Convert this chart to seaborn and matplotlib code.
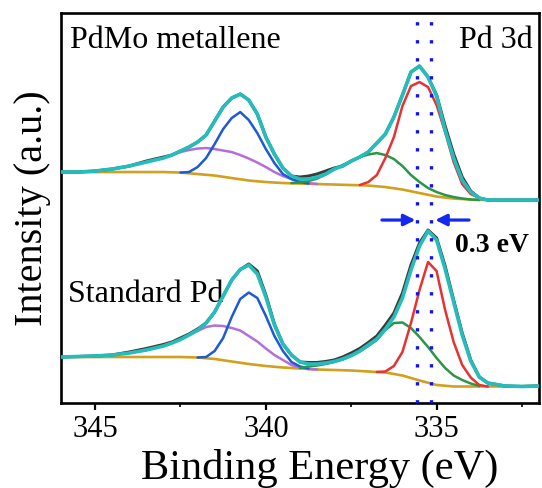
import matplotlib
matplotlib.use("Agg")
import matplotlib.pyplot as plt
import seaborn as sns

# ---------------- data (binding energy in eV, intensity in a.u.) ----------------
E_grid = [346.0, 345.5, 345.0, 344.5, 344.0, 343.5, 343.0, 342.75, 342.5, 342.25,
          342.0, 341.75, 341.5, 341.25, 341.0, 340.75, 340.5, 340.25, 340.0, 339.75,
          339.5, 339.25, 339.0, 338.75, 338.5, 338.25, 338.0, 337.75, 337.5, 337.25,
          337.0, 336.75, 336.5, 336.25, 336.0, 335.75, 335.5, 335.25, 335.0, 334.75,
          334.5, 334.25, 334.0, 333.75, 333.5, 333.0, 332.5, 332.0]

# PdMo metallene (upper spectrum)
top_raw = [231, 231, 232, 234, 237, 242, 246, 248, 252, 256,
           261, 268, 282, 296, 305, 309, 303, 289, 266, 249,
           235, 227, 226, 227, 229, 232, 235, 237, 242, 246,
           251, 260, 269, 286, 308, 331, 337, 326, 308, 277,
           249, 226, 212, 205, 203, 203, 203, 203]
top_fit = [231, 231, 232, 234, 237, 241, 245, 248, 252, 256,
           261, 268, 282, 296, 305, 309, 303, 289, 266, 249,
           235, 227, 224, 224, 226, 229, 234, 237, 242, 246,
           251, 260, 269, 286, 308, 331, 337, 326, 307, 273,
           245, 223, 211, 205, 203, 203, 203, 203]
E_base = [346.0, 345.0, 344.0, 343.0, 342.5, 342.0, 341.5, 341.0, 340.5, 340.0,
          339.5, 339.0, 338.5, 338.0, 337.5, 337.0, 336.5, 336.0, 335.5, 335.0,
          334.5, 334.0, 333.5, 333.0, 332.0]
top_base = [231, 231, 231, 231, 230.5, 229, 227.5, 225, 222.5, 221,
            220, 219.5, 219, 218.5, 218, 217.5, 216, 213.5, 210, 206.5,
            204.5, 203.5, 203, 203, 203]
E_top_blue = [342.5, 342.25, 342.0, 341.75, 341.5, 341.25, 341.0, 340.75, 340.5,
              340.25, 340.0, 339.75, 339.5, 339.25, 339.0, 338.75]
top_blue = [230.5, 231, 236, 245, 259, 274, 285, 291, 283, 270, 254, 240, 229, 224, 221, 219.5]
E_top_purple = [346.0, 345.5, 345.0, 344.5, 344.0, 343.5, 343.0, 342.5, 342.25, 342.0,
                341.75, 341.5, 341.25, 341.0, 340.75, 340.5, 340.25, 340.0, 339.75,
                339.5, 339.25, 339.0, 338.75, 338.5]
top_purple = [231, 231, 232, 234, 237, 241, 245, 251, 253, 254.5,
              255, 254, 252.5, 251, 248, 244.5, 240.5, 236, 231,
              227, 224, 221.5, 220, 219]
E_top_green = [339.25, 339.0, 338.75, 338.5, 338.25, 338.0, 337.75, 337.5, 337.25, 337.0,
               336.75, 336.5, 336.25, 336.0, 335.75, 335.5, 335.25, 335.0, 334.75, 334.5,
               334.25, 334.0, 333.75]
top_green = [220, 220.5, 222, 224.5, 228.5, 233.5, 238, 242, 246, 248.5,
             250, 248, 244, 237, 228, 221, 215, 211, 208, 206,
             204.5, 203.5, 203]
E_top_red = [337.25, 337.0, 336.75, 336.5, 336.25, 336.0, 335.75, 335.5, 335.25, 335.0,
             334.75, 334.5, 334.25, 334.0, 333.75, 333.5]
top_red = [218, 221, 228, 245, 266, 297, 317, 321, 316, 298, 271, 241, 219, 209, 205, 203]

# Standard Pd (lower spectrum)
bot_raw = [46, 46.5, 47, 48, 51, 54.5, 58.5, 61, 65, 69,
           74, 80, 91, 107, 123, 133.5, 139, 132, 108, 79,
           59, 48, 41, 40.5, 40.5, 41.5, 43, 46, 50, 54.5,
           60.5, 67, 78, 90, 110, 138, 160, 173, 165, 137,
           103, 70, 43, 26, 20, 17, 16.5, 17]
bot_fit = [46, 46.5, 47, 48, 50, 53, 57, 60, 63.5, 68,
           73, 80, 91, 107, 123, 133.5, 138, 129, 106, 78,
           59, 48, 41, 39, 39, 40, 41.5, 44, 47.5, 52,
           58, 64, 74, 86, 105, 133, 157, 172, 163, 134,
           101, 68, 42, 26, 20, 17, 16.5, 17]
bot_base = [46, 46, 46, 46, 46, 45.5, 44, 41.5, 39, 37,
            35.5, 34.5, 33.5, 33, 32.5, 31.5, 30.5, 27.5, 22.5, 18,
            16.5, 16.5, 16.5, 16.5, 17]
E_bot_blue = [342.0, 341.75, 341.5, 341.25, 341.0, 340.75, 340.5, 340.25, 340.0,
              339.75, 339.5, 339.25, 339.0, 338.75]
bot_blue = [45.5, 46, 52, 65, 86, 104, 110.5, 105, 87, 67, 52, 41, 36.5, 34.5]
E_bot_purple = [346.0, 345.5, 345.0, 344.5, 344.0, 343.5, 343.0, 342.75, 342.5, 342.25,
                342.0, 341.75, 341.5, 341.25, 341.0, 340.75, 340.5, 340.25, 340.0,
                339.75, 339.5, 339.25, 339.0, 338.75, 338.5]
bot_purple = [46, 46.5, 47, 48, 50, 53, 57, 60, 63.5, 68,
              72, 76, 77.5, 77, 75, 72.5, 67, 61.5, 54.5,
              48, 43, 38, 35.5, 34, 33.5]
E_bot_green = [339.0, 338.75, 338.5, 338.25, 338.0, 337.75, 337.5, 337.25, 337.0, 336.75,
               336.5, 336.25, 336.0, 335.75, 335.5, 335.25, 335.0, 334.75, 334.5, 334.25,
               334.0, 333.75]
bot_green = [35, 36.5, 37.5, 39, 41, 43.5, 47, 51.5, 57, 63,
             73, 80, 80.5, 75, 66, 56, 45, 35, 27.5, 23,
             19.5, 17]
E_bot_red = [336.75, 336.5, 336.25, 336.0, 335.75, 335.5, 335.25, 335.0, 334.75, 334.5,
             334.25, 334.0, 333.75, 333.5]
bot_red = [31, 31.5, 37, 51, 80, 113, 141, 132, 93, 61, 38, 25.5, 18, 16.5]

peak_lines = [335.56, 335.15]
arrow_y = 183
arrow_left = (336.6, 335.62)
arrow_right = (334.05, 335.04)

x_ticks = [345, 340, 335]
x_minor = [342.5, 337.5, 332.5]
x_limits = (346.0, 332.0)
y_limits = (0, 390)

# ---------------- style ----------------
sns.set_theme(style="white")
plt.rcParams["font.family"] = ["Liberation Serif", "DejaVu Serif"]
plt.rcParams["lines.solid_joinstyle"] = "round"
plt.rcParams["lines.solid_capstyle"] = "round"

C_FIT = "#24BDBB"
C_RAW = "#3A3A3A"
C_BLUE = "#1E5AD2"
C_PURPLE = "#B46EDC"
C_RED = "#E63232"
C_GREEN = "#2A9646"
C_GOLD = "#D2A01E"
C_DOT = "#1414E6"
C_ARROW = "#1428F0"

fig = plt.figure(figsize=(5.42, 4.88), dpi=100)
ax = fig.add_axes([0.1125, 0.1742, 0.882, 0.799])

def curve(x, y, color, lw, z):
    sns.lineplot(x=x, y=y, ax=ax, color=color, linewidth=lw, estimator=None,
                 legend=False, zorder=z)

for base, purple, blue, green, red, raw, fit, Ep, Eb, Eg, Er in [
        (top_base, top_purple, top_blue, top_green, top_red, top_raw, top_fit,
         E_top_purple, E_top_blue, E_top_green, E_top_red),
        (bot_base, bot_purple, bot_blue, bot_green, bot_red, bot_raw, bot_fit,
         E_bot_purple, E_bot_blue, E_bot_green, E_bot_red)]:
    curve(E_base, base, C_GOLD, 1.9, 2)
    curve(Ep, purple, C_PURPLE, 1.8, 3)
    curve(Eb, blue, C_BLUE, 1.8, 3)
    curve(Eg, green, C_GREEN, 1.8, 3)
    curve(Er, red, C_RED, 1.8, 4)
    curve(E_grid, raw, C_RAW, 2.2, 5)
    curve(E_grid, fit, C_FIT, 2.6, 6)

for xv in peak_lines:
    ax.axvline(xv, color=C_DOT, lw=2.4, linestyle=(0, (1, 4.4)), zorder=8)

for (x0, x1) in (arrow_left, arrow_right):
    ax.annotate("", xy=(x1, arrow_y), xytext=(x0, arrow_y),
                arrowprops=dict(arrowstyle="-|>", color=C_ARROW, lw=2.3,
                                mutation_scale=17, shrinkA=0, shrinkB=0), zorder=9)

ax.text(0.019, 0.910, "PdMo metallene", transform=ax.transAxes, fontsize=23,
        ha="left", va="baseline", color="black")
ax.text(0.987, 0.910, "Pd 3d", transform=ax.transAxes, fontsize=23,
        ha="right", va="baseline", color="black")
ax.text(0.015, 0.259, "Standard Pd", transform=ax.transAxes, fontsize=23,
        ha="left", va="baseline", color="black")
ax.text(0.824, 0.387, "0.3 eV", transform=ax.transAxes, fontsize=20,
        fontweight="bold", ha="left", va="baseline", color="black")

ax.set_xlim(*x_limits)
ax.set_ylim(*y_limits)
ax.set_xticks(x_ticks)
ax.set_xticklabels([str(t) for t in x_ticks])
ax.set_xticks(x_minor, minor=True)
ax.set_yticks([])
ax.tick_params(axis="x", which="major", direction="out", length=5, width=1.6,
               labelsize=22, pad=4, colors="black", bottom=True, top=False)
ax.tick_params(axis="x", which="minor", direction="out", length=3, width=1.4,
               bottom=True, top=False)
for s in ax.spines.values():
    s.set_color("black")
    s.set_linewidth(1.9)

ax.set_xlabel("Binding Energy (eV)", fontsize=30.5, color="black")
ax.xaxis.set_label_coords(0.542, -0.118)
ax.set_ylabel("Intensity (a.u.)", fontsize=29, color="black")
ax.yaxis.set_label_coords(-0.02, 0.5)

fig.savefig("out.png", dpi=100)
